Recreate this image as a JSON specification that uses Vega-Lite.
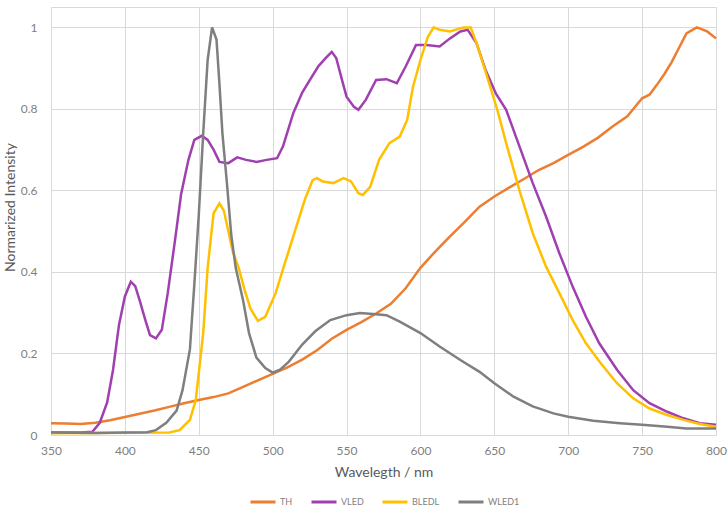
{
  "$schema": "https://vega.github.io/schema/vega-lite/v6.json",
  "autosize": "none",
  "width": 665,
  "height": 428,
  "padding": {"left": 51, "top": 7, "right": 12, "bottom": 90},
  "background": "white",
  "config": {
    "font": "Lato",
    "view": {"stroke": "#d9d9d9", "strokeWidth": 1}
  },
  "data": {
    "values": [
      {"s":"TH","x":350,"y":0.029},{"s":"TH","x":360,"y":0.028},{"s":"TH","x":370,"y":0.027},{"s":"TH","x":380,"y":0.030},{"s":"TH","x":390,"y":0.036},{"s":"TH","x":400,"y":0.044},{"s":"TH","x":410,"y":0.052},{"s":"TH","x":420,"y":0.060},{"s":"TH","x":430,"y":0.069},{"s":"TH","x":440,"y":0.078},{"s":"TH","x":450,"y":0.086},{"s":"TH","x":460,"y":0.093},{"s":"TH","x":470,"y":0.102},{"s":"TH","x":480,"y":0.118},{"s":"TH","x":490,"y":0.134},{"s":"TH","x":500,"y":0.150},{"s":"TH","x":510,"y":0.166},{"s":"TH","x":520,"y":0.185},{"s":"TH","x":530,"y":0.208},{"s":"TH","x":540,"y":0.236},{"s":"TH","x":550,"y":0.258},{"s":"TH","x":560,"y":0.277},{"s":"TH","x":570,"y":0.298},{"s":"TH","x":580,"y":0.322},{"s":"TH","x":590,"y":0.360},{"s":"TH","x":600,"y":0.410},{"s":"TH","x":610,"y":0.450},{"s":"TH","x":620,"y":0.487},{"s":"TH","x":630,"y":0.523},{"s":"TH","x":640,"y":0.560},{"s":"TH","x":650,"y":0.585},{"s":"TH","x":660,"y":0.607},{"s":"TH","x":670,"y":0.628},{"s":"TH","x":680,"y":0.650},{"s":"TH","x":690,"y":0.667},{"s":"TH","x":700,"y":0.687},{"s":"TH","x":710,"y":0.707},{"s":"TH","x":720,"y":0.729},{"s":"TH","x":730,"y":0.757},{"s":"TH","x":740,"y":0.782},{"s":"TH","x":750,"y":0.826},{"s":"TH","x":755,"y":0.835},{"s":"TH","x":760,"y":0.859},{"s":"TH","x":765,"y":0.885},{"s":"TH","x":770,"y":0.915},{"s":"TH","x":775,"y":0.950},{"s":"TH","x":780,"y":0.985},{"s":"TH","x":787,"y":1.0},{"s":"TH","x":794,"y":0.99},{"s":"TH","x":800,"y":0.973},

      {"s":"VLED","x":350,"y":0.006},{"s":"VLED","x":370,"y":0.006},{"s":"VLED","x":378,"y":0.008},{"s":"VLED","x":383,"y":0.03},{"s":"VLED","x":388,"y":0.08},{"s":"VLED","x":392,"y":0.16},{"s":"VLED","x":396,"y":0.27},{"s":"VLED","x":400,"y":0.34},{"s":"VLED","x":404,"y":0.376},{"s":"VLED","x":407,"y":0.365},{"s":"VLED","x":410,"y":0.33},{"s":"VLED","x":414,"y":0.28},{"s":"VLED","x":417,"y":0.245},{"s":"VLED","x":421,"y":0.237},{"s":"VLED","x":425,"y":0.258},{"s":"VLED","x":429,"y":0.348},{"s":"VLED","x":434,"y":0.48},{"s":"VLED","x":438,"y":0.59},{"s":"VLED","x":443,"y":0.675},{"s":"VLED","x":447,"y":0.724},{"s":"VLED","x":452,"y":0.734},{"s":"VLED","x":456,"y":0.724},{"s":"VLED","x":460,"y":0.70},{"s":"VLED","x":464,"y":0.67},{"s":"VLED","x":470,"y":0.667},{"s":"VLED","x":476,"y":0.681},{"s":"VLED","x":482,"y":0.675},{"s":"VLED","x":489,"y":0.67},{"s":"VLED","x":496,"y":0.675},{"s":"VLED","x":503,"y":0.679},{"s":"VLED","x":507,"y":0.708},{"s":"VLED","x":514,"y":0.79},{"s":"VLED","x":520,"y":0.84},{"s":"VLED","x":525,"y":0.87},{"s":"VLED","x":531,"y":0.905},{"s":"VLED","x":536,"y":0.925},{"s":"VLED","x":540,"y":0.94},{"s":"VLED","x":543,"y":0.925},{"s":"VLED","x":547,"y":0.87},{"s":"VLED","x":550,"y":0.83},{"s":"VLED","x":555,"y":0.805},{"s":"VLED","x":558,"y":0.798},{"s":"VLED","x":563,"y":0.822},{"s":"VLED","x":570,"y":0.871},{"s":"VLED","x":577,"y":0.873},{"s":"VLED","x":584,"y":0.863},{"s":"VLED","x":590,"y":0.904},{"s":"VLED","x":597,"y":0.957},{"s":"VLED","x":604,"y":0.957},{"s":"VLED","x":613,"y":0.953},{"s":"VLED","x":620,"y":0.973},{"s":"VLED","x":627,"y":0.99},{"s":"VLED","x":632,"y":0.994},{"s":"VLED","x":638,"y":0.961},{"s":"VLED","x":644,"y":0.896},{"s":"VLED","x":651,"y":0.838},{"s":"VLED","x":658,"y":0.798},{"s":"VLED","x":667,"y":0.708},{"s":"VLED","x":676,"y":0.618},{"s":"VLED","x":685,"y":0.536},{"s":"VLED","x":694,"y":0.446},{"s":"VLED","x":703,"y":0.364},{"s":"VLED","x":712,"y":0.29},{"s":"VLED","x":721,"y":0.225},{"s":"VLED","x":733,"y":0.16},{"s":"VLED","x":744,"y":0.11},{"s":"VLED","x":755,"y":0.078},{"s":"VLED","x":767,"y":0.057},{"s":"VLED","x":778,"y":0.041},{"s":"VLED","x":789,"y":0.029},{"s":"VLED","x":800,"y":0.025},

      {"s":"BLEDL","x":350,"y":0.004},{"s":"BLEDL","x":430,"y":0.006},{"s":"BLEDL","x":437,"y":0.012},{"s":"BLEDL","x":444,"y":0.037},{"s":"BLEDL","x":448,"y":0.086},{"s":"BLEDL","x":453,"y":0.25},{"s":"BLEDL","x":456,"y":0.41},{"s":"BLEDL","x":460,"y":0.544},{"s":"BLEDL","x":464,"y":0.568},{"s":"BLEDL","x":467,"y":0.55},{"s":"BLEDL","x":470,"y":0.50},{"s":"BLEDL","x":473,"y":0.45},{"s":"BLEDL","x":477,"y":0.41},{"s":"BLEDL","x":481,"y":0.356},{"s":"BLEDL","x":485,"y":0.31},{"s":"BLEDL","x":490,"y":0.28},{"s":"BLEDL","x":495,"y":0.29},{"s":"BLEDL","x":502,"y":0.348},{"s":"BLEDL","x":509,"y":0.43},{"s":"BLEDL","x":516,"y":0.511},{"s":"BLEDL","x":522,"y":0.58},{"s":"BLEDL","x":527,"y":0.625},{"s":"BLEDL","x":530,"y":0.63},{"s":"BLEDL","x":534,"y":0.622},{"s":"BLEDL","x":541,"y":0.618},{"s":"BLEDL","x":548,"y":0.63},{"s":"BLEDL","x":553,"y":0.622},{"s":"BLEDL","x":558,"y":0.593},{"s":"BLEDL","x":561,"y":0.589},{"s":"BLEDL","x":566,"y":0.609},{"s":"BLEDL","x":572,"y":0.675},{"s":"BLEDL","x":579,"y":0.716},{"s":"BLEDL","x":586,"y":0.732},{"s":"BLEDL","x":591,"y":0.773},{"s":"BLEDL","x":595,"y":0.855},{"s":"BLEDL","x":600,"y":0.92},{"s":"BLEDL","x":605,"y":0.977},{"s":"BLEDL","x":609,"y":1.0},{"s":"BLEDL","x":613,"y":0.994},{"s":"BLEDL","x":620,"y":0.99},{"s":"BLEDL","x":629,"y":1.0},{"s":"BLEDL","x":634,"y":1.0},{"s":"BLEDL","x":638,"y":0.961},{"s":"BLEDL","x":644,"y":0.892},{"s":"BLEDL","x":652,"y":0.798},{"s":"BLEDL","x":658,"y":0.716},{"s":"BLEDL","x":667,"y":0.60},{"s":"BLEDL","x":676,"y":0.495},{"s":"BLEDL","x":685,"y":0.413},{"s":"BLEDL","x":694,"y":0.348},{"s":"BLEDL","x":703,"y":0.282},{"s":"BLEDL","x":712,"y":0.225},{"s":"BLEDL","x":722,"y":0.176},{"s":"BLEDL","x":733,"y":0.127},{"s":"BLEDL","x":744,"y":0.09},{"s":"BLEDL","x":755,"y":0.065},{"s":"BLEDL","x":767,"y":0.049},{"s":"BLEDL","x":778,"y":0.037},{"s":"BLEDL","x":789,"y":0.027},{"s":"BLEDL","x":800,"y":0.02},

      {"s":"WLED1","x":350,"y":0.006},{"s":"WLED1","x":380,"y":0.005},{"s":"WLED1","x":400,"y":0.006},{"s":"WLED1","x":415,"y":0.007},{"s":"WLED1","x":421,"y":0.012},{"s":"WLED1","x":428,"y":0.03},{"s":"WLED1","x":435,"y":0.06},{"s":"WLED1","x":439,"y":0.11},{"s":"WLED1","x":444,"y":0.21},{"s":"WLED1","x":447,"y":0.37},{"s":"WLED1","x":450,"y":0.54},{"s":"WLED1","x":453,"y":0.74},{"s":"WLED1","x":456,"y":0.92},{"s":"WLED1","x":459,"y":1.0},{"s":"WLED1","x":462,"y":0.97},{"s":"WLED1","x":464,"y":0.86},{"s":"WLED1","x":466,"y":0.74},{"s":"WLED1","x":469,"y":0.62},{"s":"WLED1","x":472,"y":0.49},{"s":"WLED1","x":475,"y":0.41},{"s":"WLED1","x":480,"y":0.33},{"s":"WLED1","x":484,"y":0.25},{"s":"WLED1","x":489,"y":0.19},{"s":"WLED1","x":495,"y":0.164},{"s":"WLED1","x":500,"y":0.153},{"s":"WLED1","x":505,"y":0.16},{"s":"WLED1","x":511,"y":0.18},{"s":"WLED1","x":520,"y":0.222},{"s":"WLED1","x":529,"y":0.255},{"s":"WLED1","x":539,"y":0.282},{"s":"WLED1","x":550,"y":0.294},{"s":"WLED1","x":559,"y":0.299},{"s":"WLED1","x":568,"y":0.297},{"s":"WLED1","x":577,"y":0.294},{"s":"WLED1","x":586,"y":0.278},{"s":"WLED1","x":600,"y":0.25},{"s":"WLED1","x":613,"y":0.217},{"s":"WLED1","x":627,"y":0.184},{"s":"WLED1","x":640,"y":0.155},{"s":"WLED1","x":650,"y":0.127},{"s":"WLED1","x":663,"y":0.094},{"s":"WLED1","x":676,"y":0.07},{"s":"WLED1","x":690,"y":0.053},{"s":"WLED1","x":700,"y":0.045},{"s":"WLED1","x":717,"y":0.035},{"s":"WLED1","x":735,"y":0.029},{"s":"WLED1","x":750,"y":0.025},{"s":"WLED1","x":767,"y":0.02},{"s":"WLED1","x":780,"y":0.016},{"s":"WLED1","x":800,"y":0.016}
    ]
  },
  "mark": {"type": "line", "strokeWidth": 2.5, "interpolate": "linear"},
  "encoding": {
    "x": {
      "field": "x", "type": "quantitative",
      "scale": {"domain": [350, 800], "nice": false},
      "axis": {
        "values": [350,400,450,500,550,600,650,700,750,800],
        "title": "Wavelegth / nm",
        "titleFontSize": 14, "titleFontWeight": "normal", "titleColor": "#595959", "titlePadding": 9,
        "labelFontSize": 12, "labelColor": "#7f7f7f", "labelPadding": 10,
        "ticks": false, "domain": false,
        "grid": true, "gridColor": "#d9d9d9", "labelFlush": false
      }
    },
    "y": {
      "field": "y", "type": "quantitative",
      "scale": {"domain": [0, 1.05], "nice": false},
      "axis": {
        "values": [0, 0.2, 0.4, 0.6, 0.8, 1],
        "format": "~g",
        "title": "Normarized Intensity",
        "titleFontSize": 14, "titleFontWeight": "normal", "titleColor": "#595959",
        "titleX": -34, "titleY": 200,
        "labelFontSize": 12, "labelColor": "#7f7f7f", "labelPadding": 14,
        "ticks": false, "domain": false,
        "grid": true, "gridColor": "#d9d9d9"
      }
    },
    "color": {
      "field": "s", "type": "nominal",
      "scale": {"domain": ["TH","VLED","BLEDL","WLED1"], "range": ["#ED7D31","#A040B0","#FFC000","#7F7F7F"]},
      "legend": {
        "title": null, "orient": "none", "direction": "horizontal",
        "legendX": 198, "legendY": 481,
        "symbolType": "stroke", "symbolStrokeWidth": 3, "symbolSize": 625,
        "labelFontSize": 9, "labelColor": "#7f7f7f", "labelOffset": 3,
        "columnPadding": 12
      }
    },
    "order": {"field": "x", "type": "quantitative"}
  }
}
